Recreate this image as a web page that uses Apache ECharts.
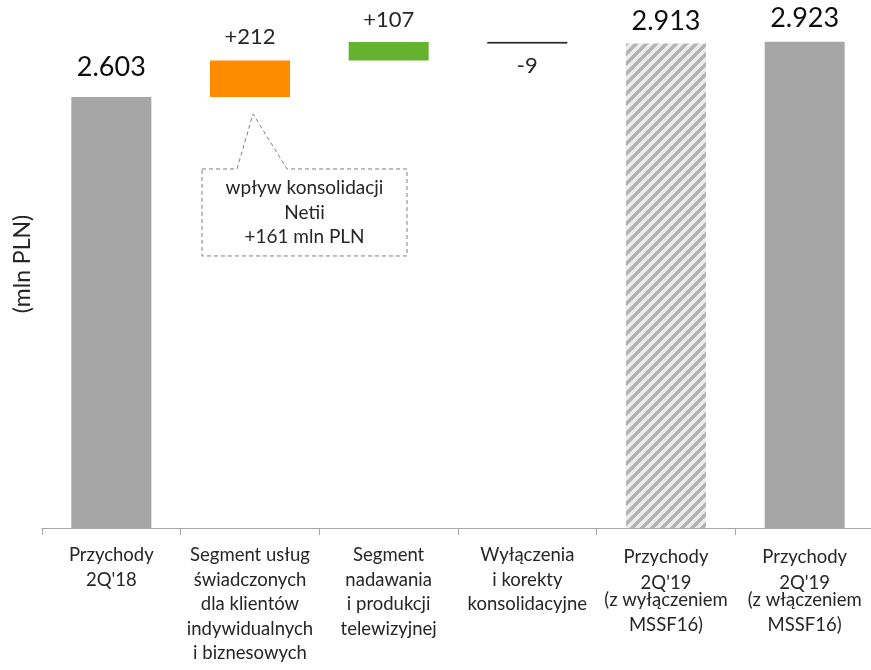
<!DOCTYPE html>
<html>
<head>
<meta charset="utf-8">
<script src="https://cdn.jsdelivr.net/npm/echarts@6/dist/echarts.min.js"></script>
<style>
  html, body { margin: 0; padding: 0; background: #fff; }
  #chart { width: 871px; height: 670px; }
</style>
</head>
<body>
<div id="chart"></div>
<script>
// Revenue bridge 2Q'18 -> 2Q'19 (mln PLN)
const categories = [
  "Przychody\n2Q'18",
  "Segment usług\nświadczonych\ndla klientów\nindywidualnych\ni biznesowych",
  "Segment\nnadawania\ni produkcji\ntelewizyjnej",
  "Wyłączenia\ni korekty\nkonsolidacyjne",
  "Przychody\n2Q'19\n(z wyłączeniem\nMSSF16)",
  "Przychody\n2Q'19\n(z włączeniem\nMSSF16)"
];
const openingValue = 2603;
const segmentChanges = [212, 107, -9];
const closingValues = [2913, 2923];
const calloutLines = ['wpływ konsolidacji', 'Netii', '+161 mln PLN'];

const FONT = 'Lato, "Open Sans", sans-serif';
const AXIS_FS = 18.5;

// Polish thousands separator
function fmtTotal(v) { return String(v).replace(/\B(?=(\d{3})+(?!\d))/g, '.'); }
function fmtChange(v) { return (v > 0 ? '+' : '') + v; }

// Floating (invisible) bases and visible heights of the bridge
const baseValues = [0];
const barValues = [openingValue];
let running = openingValue;
segmentChanges.forEach(function (d) {
  const next = running + d;
  baseValues.push(Math.min(running, next));
  barValues.push(Math.abs(d));
  running = next;
});
closingValues.forEach(function (v) { baseValues.push(0); barValues.push(v); });

// Diagonal stripe fill for the bar excluding MSSF16
function stripePattern() {
  const s = 10;
  const c = document.createElement('canvas');
  c.width = c.height = s;
  const g = c.getContext('2d');
  g.fillStyle = '#ededed';
  g.fillRect(0, 0, s, s);
  g.strokeStyle = '#b3b3b3';
  g.lineWidth = 3.5;
  g.beginPath();
  g.moveTo(-2, s + 2); g.lineTo(s + 2, -2);
  g.moveTo(-2, 2); g.lineTo(2, -2);
  g.moveTo(s - 2, s + 2); g.lineTo(s + 2, s - 2);
  g.stroke();
  return c;
}

const GRAY = '#a6a6a6';
const barStyles = [
  { color: GRAY },
  { color: '#ff8c00' },
  { color: '#64b22f' },
  { color: '#000000', borderColor: '#000', borderWidth: 0.4 },
  { color: { image: stripePattern(), repeat: 'repeat' } },
  { color: GRAY }
];
const labelTweaks = [
  { position: 'top', distance: 16, fontSize: 27, color: '#0d0d0d' },
  { position: 'top', distance: 13, fontSize: 22, color: '#262626' },
  { position: 'top', distance: 11, fontSize: 22, color: '#262626' },
  { position: 'bottom', distance: 11, fontSize: 22, color: '#262626' },
  { position: 'top', distance: 9, fontSize: 27, color: '#0d0d0d' },
  { position: 'top', distance: 10, fontSize: 27, color: '#0d0d0d' }
];
const labelTexts = [fmtTotal(openingValue)]
  .concat(segmentChanges.map(fmtChange))
  .concat(closingValues.map(fmtTotal));

const visibleData = barValues.map(function (v, i) {
  return {
    value: v,
    itemStyle: barStyles[i],
    label: Object.assign({ show: true, formatter: labelTexts[i], fontFamily: FONT }, labelTweaks[i])
  };
});

const chart = echarts.init(document.getElementById('chart'), null, { renderer: 'canvas' });

const richLine = function (lh) {
  return { lineHeight: lh, fontSize: AXIS_FS, fontFamily: FONT, color: '#262626' };
};

chart.setOption({
  animation: false,
  backgroundColor: '#ffffff',
  grid: { left: 42, top: 0, width: 832, bottom: 142, containLabel: false, outerBoundsMode: 'none' },
  xAxis: {
    type: 'category',
    data: categories,
    axisLine: { lineStyle: { color: '#a6a6a6', width: 1 } },
    axisTick: { show: true, length: 7, lineStyle: { color: '#a6a6a6' } },
    axisLabel: {
      interval: 0,
      margin: 15,
      fontSize: AXIS_FS,
      lineHeight: 24.5,
      color: '#262626',
      fontFamily: FONT,
      formatter: function (value, idx) {
        if (idx < 4) return value;
        const parts = value.split('\n');
        return parts.map(function (t, k) { return '{r' + k + '|' + t + '}'; }).join('\n');
      },
      rich: { r0: richLine(28), r1: richLine(24), r2: richLine(10), r3: richLine(40) }
    }
  },
  yAxis: {
    type: 'value',
    min: 100,
    max: 3166,
    name: '(mln PLN)',
    nameLocation: 'middle',
    nameRotate: 90,
    nameGap: 8,
    nameTextStyle: { fontSize: 23, color: '#262626', fontFamily: FONT },
    axisLine: { show: false },
    axisTick: { show: false },
    axisLabel: { show: false },
    splitLine: { show: false }
  },
  series: [
    {
      name: 'base',
      type: 'bar',
      stack: 'bridge',
      silent: true,
      barWidth: 80,
      itemStyle: { color: 'transparent' },
      data: baseValues
    },
    {
      name: 'value',
      type: 'bar',
      stack: 'bridge',
      barWidth: 80,
      data: visibleData
    }
  ]
});

// Callout for the consolidation effect, anchored under the orange bar
const anchor = chart.convertToPixel({ gridIndex: 0 }, [1, openingValue]);
const ax = anchor[0], ay = anchor[1];
const boxL = ax - 48, boxR = ax + 157, boxT = ay + 72, boxB = ay + 159;
chart.setOption({
  graphic: [
    {
      type: 'polygon',
      shape: {
        points: [
          [boxL, boxT], [ax - 13, boxT], [ax + 3, ay + 17], [ax + 37, boxT],
          [boxR, boxT], [boxR, boxB], [boxL, boxB]
        ]
      },
      style: { fill: 'none', stroke: '#7f7f7f', lineWidth: 1, lineDash: [4, 3] },
      silent: true
    },
    {
      type: 'text',
      x: (boxL + boxR) / 2,
      y: boxT + 7,
      style: {
        text: calloutLines.join('\n'),
        fontSize: 19,
        lineHeight: 24.5,
        fontFamily: FONT,
        fill: '#262626',
        align: 'center',
        verticalAlign: 'top'
      },
      silent: true
    }
  ]
});
</script>
</body>
</html>
